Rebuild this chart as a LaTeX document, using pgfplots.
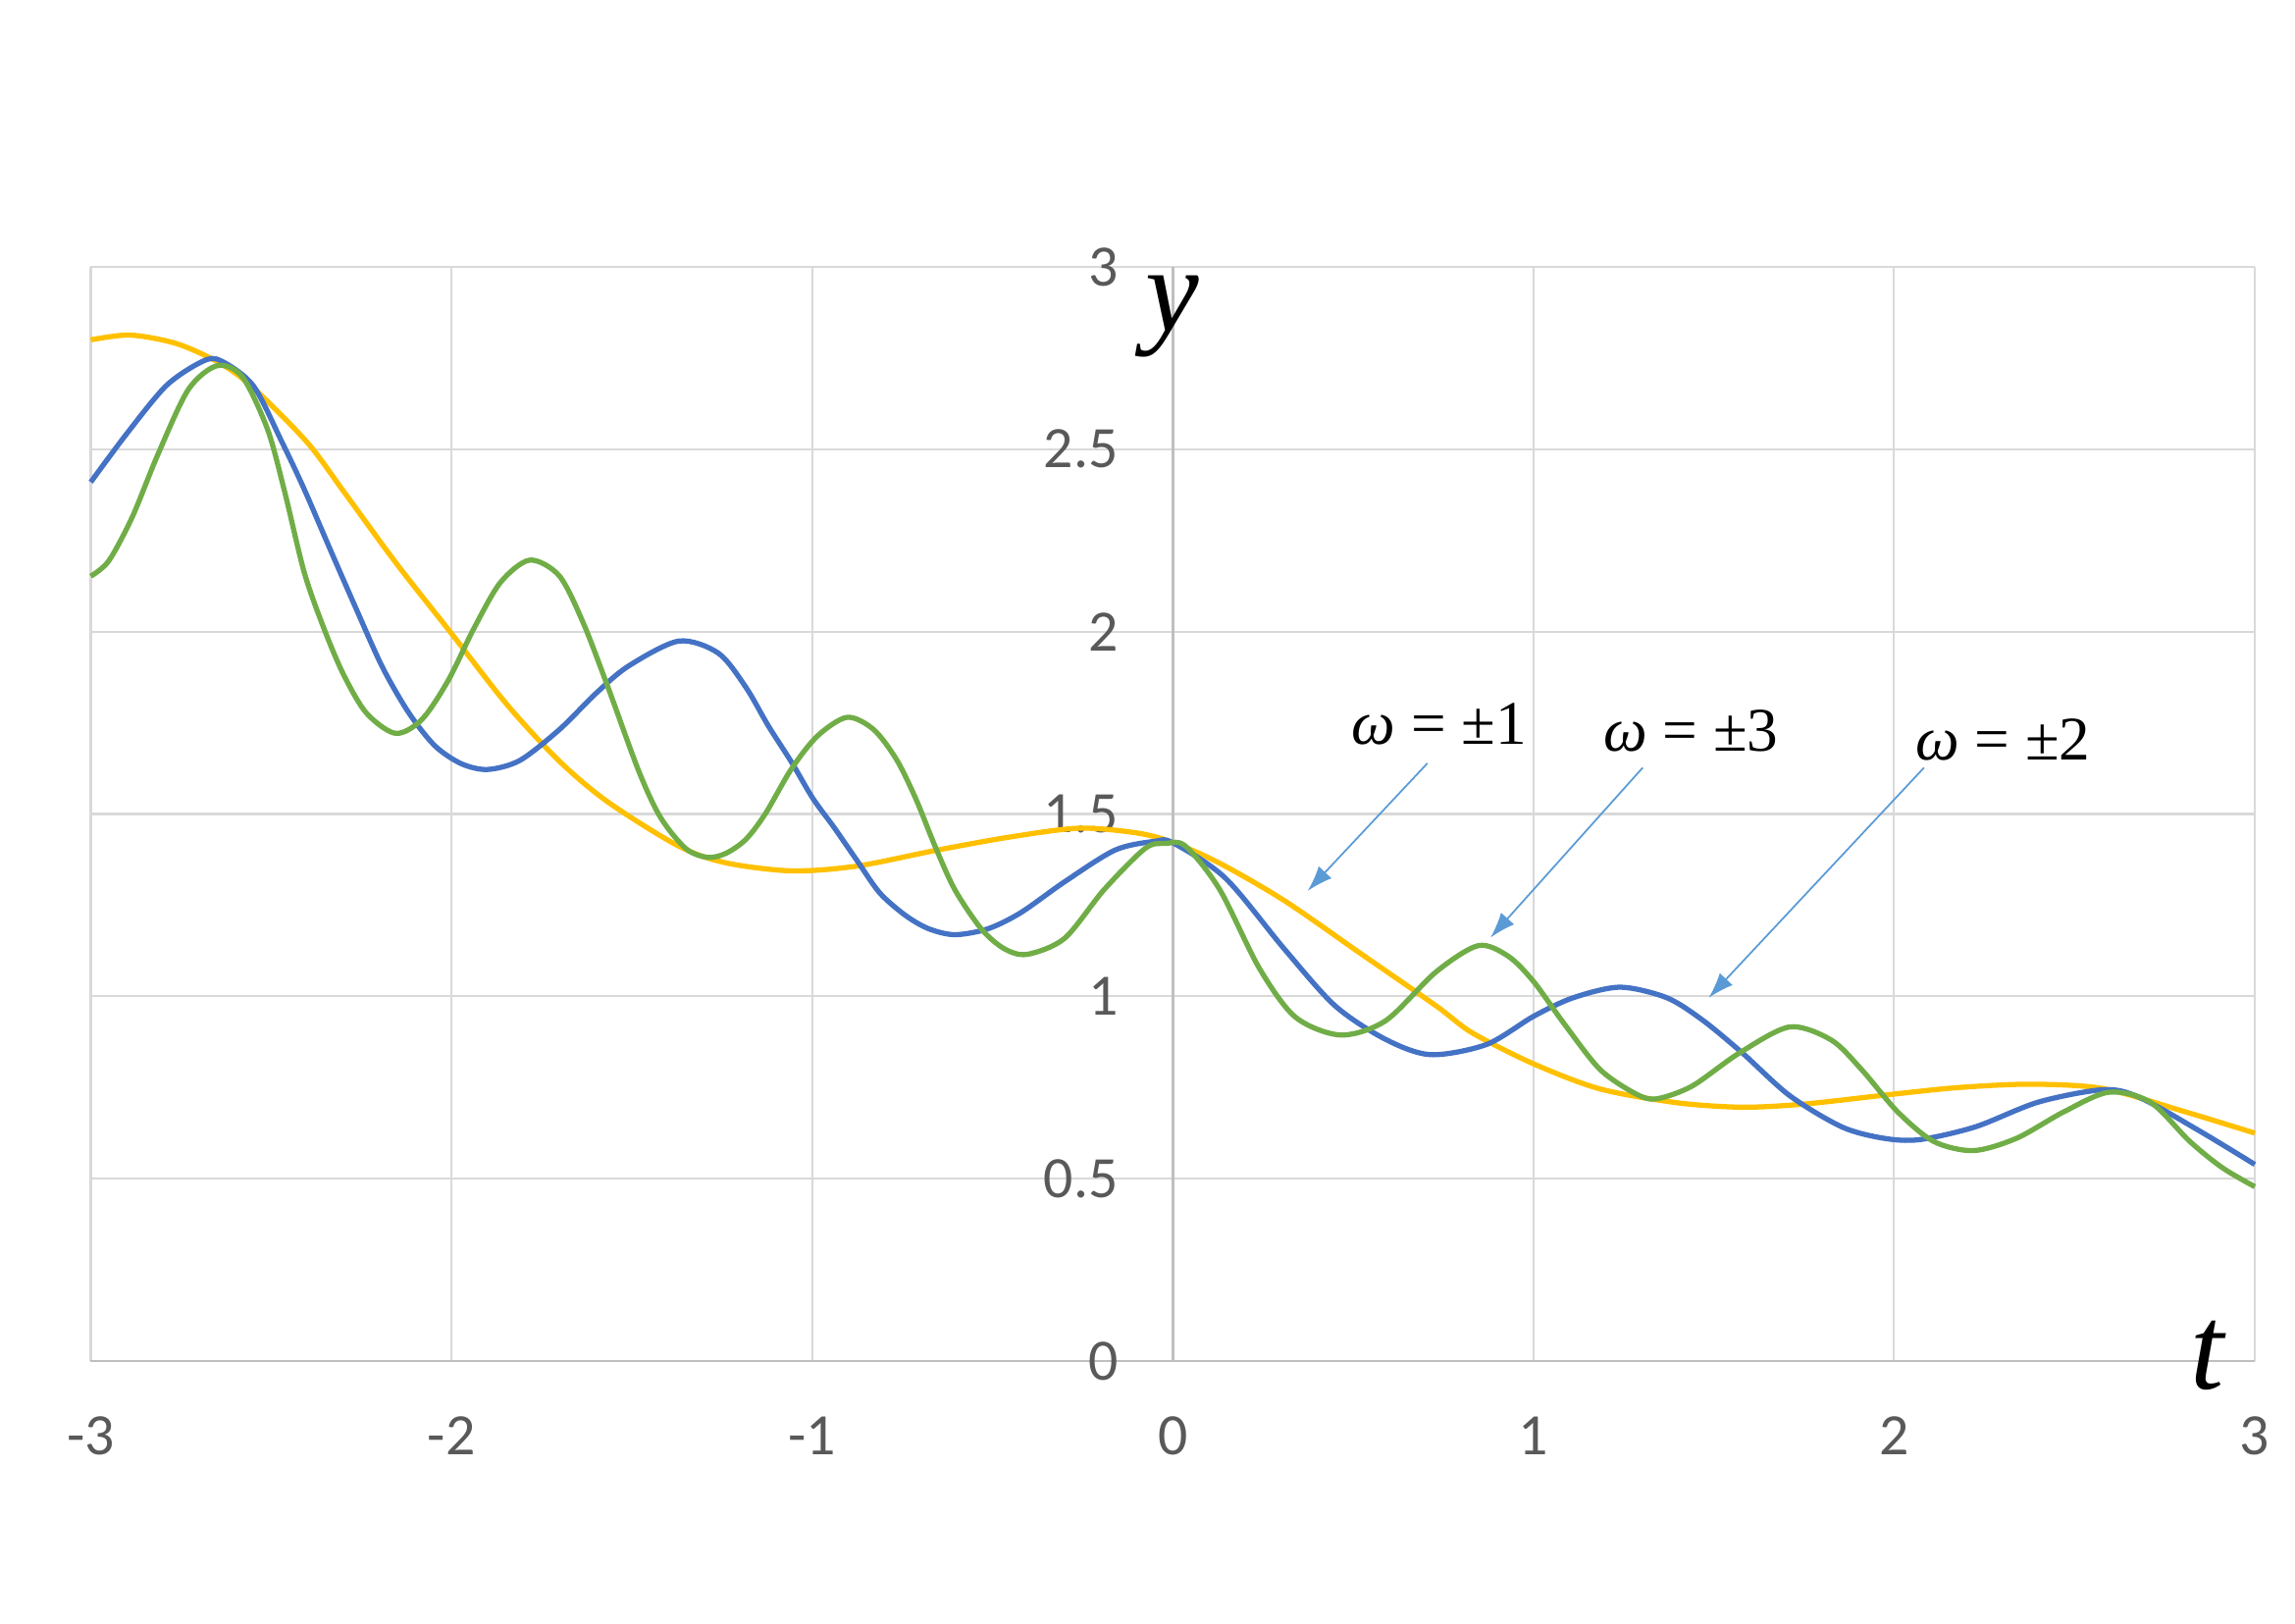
\documentclass[border=0pt]{standalone}
\usepackage{fontspec}
\setmainfont{Carlito}
\newfontfamily\tnr{Liberation Serif}
\usepackage{pgfplots}
\pgfplotsset{compat=1.18}
\usetikzlibrary{arrows.meta}

\definecolor{wone}{HTML}{FFC000}
\definecolor{wtwo}{HTML}{4472C4}
\definecolor{wthree}{HTML}{70AD47}
\definecolor{gridgray}{HTML}{D9D9D9}
\definecolor{axisgray}{HTML}{BFBFBF}
\definecolor{tickgray}{HTML}{595959}
\definecolor{arrowblue}{HTML}{5B9BD5}

\begin{document}
\begin{tikzpicture}
\begin{axis}[
    width=220.55mm, height=111.5mm, scale only axis,
    xmin=-3, xmax=3, ymin=0, ymax=3,
    axis x line=bottom, axis y line=center,
    axis line style={draw=axisgray, line width=0.8pt, -},
    xtick={-3,-2,-1,0,1,2,3},
    xticklabels={-3,-2,-1,0,1,2,3},
    ytick={0,0.5,1,1.5,2,2.5,3},
    yticklabels={0,0.5,1,1.5,2,2.5,3},
    grid=major, grid style={draw=gridgray, line width=0.6pt},
    major tick length=0pt,
    tick label style={font=\fontsize{17}{20}\selectfont, text=tickgray, inner sep=0pt},
    xticklabel style={anchor=north, yshift=-5.6mm},
    yticklabel style={anchor=east, xshift=-5.5mm},
    clip=false,
]
% omega = +-1
\addplot[wone, line width=1.5pt, smooth] coordinates {
    (-3,2.80) (-2.89,2.813) (-2.76,2.789) (-2.64,2.735) (-2.55,2.669)
    (-2.40,2.519) (-2.30,2.386) (-2.155,2.19) (-2.0,1.995) (-1.846,1.80)
    (-1.701,1.645) (-1.565,1.532) (-1.37,1.412) (-1.239,1.366) (-1.057,1.344)
    (-0.876,1.357) (-0.658,1.400) (-0.45,1.437) (-0.26,1.461) (-0.10,1.448)
    (0,1.422) (0.13,1.365) (0.31,1.262) (0.52,1.118) (0.73,0.974)
    (0.83,0.90) (1.0,0.815) (1.185,0.746) (1.40,0.708) (1.58,0.696)
    (1.755,0.705) (2.0,0.732) (2.18,0.75) (2.38,0.759) (2.58,0.747)
    (2.795,0.687) (3.0,0.625)
};
% omega = +-2
\addplot[wtwo, line width=1.5pt, smooth] coordinates {
    (-3,2.41) (-2.90,2.543) (-2.79,2.675) (-2.69,2.741) (-2.64,2.743)
    (-2.55,2.675) (-2.47,2.52) (-2.408,2.39) (-2.336,2.225) (-2.263,2.06)
    (-2.191,1.902) (-2.118,1.777) (-2.046,1.687) (-1.973,1.638) (-1.90,1.622)
    (-1.81,1.647) (-1.70,1.732) (-1.60,1.83) (-1.51,1.905) (-1.37,1.974)
    (-1.26,1.941) (-1.184,1.848) (-1.121,1.741) (-1.057,1.642) (-0.998,1.543)
    (-0.939,1.463) (-0.876,1.373) (-0.812,1.283) (-0.74,1.221) (-0.676,1.185)
    (-0.604,1.169) (-0.513,1.185) (-0.422,1.229) (-0.30,1.314) (-0.16,1.401)
    (-0.05,1.425) (0,1.421) (0.146,1.324) (0.31,1.129) (0.45,0.974)
    (0.59,0.882) (0.715,0.84) (0.87,0.868) (1.0,0.945) (1.11,0.996)
    (1.24,1.025) (1.37,0.996) (1.47,0.934) (1.58,0.844) (1.71,0.728)
    (1.855,0.642) (1.97,0.611) (2.07,0.607) (2.225,0.642) (2.40,0.71)
    (2.58,0.744) (2.68,0.723) (2.85,0.629) (3.0,0.539)
};
% omega = +-3
\addplot[wthree, line width=1.5pt, smooth] coordinates {
    (-3,2.152) (-2.95,2.194) (-2.885,2.314) (-2.815,2.483) (-2.73,2.663)
    (-2.65,2.729) (-2.58,2.699) (-2.51,2.555) (-2.463,2.386) (-2.408,2.162)
    (-2.354,2.010) (-2.30,1.884) (-2.236,1.777) (-2.155,1.721) (-2.082,1.759)
    (-2.009,1.866) (-1.937,2.010) (-1.864,2.135) (-1.783,2.196) (-1.701,2.153)
    (-1.635,2.025) (-1.565,1.845) (-1.48,1.616) (-1.42,1.49) (-1.35,1.405)
    (-1.29,1.381) (-1.239,1.392) (-1.184,1.43) (-1.13,1.50) (-1.057,1.624)
    (-0.985,1.714) (-0.903,1.765) (-0.830,1.732) (-0.767,1.651) (-0.713,1.543)
    (-0.658,1.409) (-0.604,1.292) (-0.531,1.185) (-0.468,1.131) (-0.404,1.115)
    (-0.30,1.159) (-0.19,1.293) (-0.076,1.406) (-0.02,1.419) (0.035,1.412)
    (0.13,1.293) (0.24,1.077) (0.34,0.943) (0.465,0.894) (0.59,0.933)
    (0.73,1.067) (0.847,1.139) (0.93,1.11) (1.0,1.041) (1.085,0.925)
    (1.185,0.799) (1.285,0.732) (1.342,0.719) (1.44,0.754) (1.57,0.844)
    (1.71,0.916) (1.826,0.88) (1.91,0.799) (2.01,0.683) (2.11,0.602)
    (2.22,0.577) (2.34,0.611) (2.47,0.683) (2.595,0.737) (2.71,0.71)
    (2.82,0.602) (2.91,0.53) (3.0,0.478)
};

% y tick label at the origin (dropped by the centred axis line)
\node[anchor=east, inner sep=0pt, xshift=-5.5mm, text=tickgray,
      font=\fontsize{17}{20}\selectfont] at (axis cs:0,0) {0};

% axis letters
\node[inner sep=0pt, font=\tnr\itshape\fontsize{35}{40}\selectfont] at (axis cs:0,2.865) {y};
\node[inner sep=0pt, font=\tnr\itshape\fontsize{35}{40}\selectfont] at (axis cs:2.869,0.016) {t};

% labels and arrows
\node[inner sep=0pt, font=\tnr\fontsize{18}{22}\selectfont] at (axis cs:0.739,1.747) {\textit{ω} = ±1};
\node[inner sep=0pt, font=\tnr\fontsize{18}{22}\selectfont] at (axis cs:1.437,1.727) {\textit{ω} = ±3};
\node[inner sep=0pt, font=\tnr\fontsize{18}{22}\selectfont] at (axis cs:2.302,1.703) {\textit{ω} = ±2};
\draw[arrowblue, line width=0.5pt, -{Latex[length=2.6mm,width=1.8mm]}] (axis cs:0.706,1.639) -- (axis cs:0.374,1.289);
\draw[arrowblue, line width=0.5pt, -{Latex[length=2.6mm,width=1.8mm]}] (axis cs:1.303,1.627) -- (axis cs:0.881,1.161);
\draw[arrowblue, line width=0.5pt, -{Latex[length=2.6mm,width=1.8mm]}] (axis cs:2.083,1.627) -- (axis cs:1.486,0.996);

\coordinate (O) at (rel axis cs:0,0);
\end{axis}
\pgfresetboundingbox
\path[use as bounding box] ([shift={(-9.25mm,-26.7mm)}]O) rectangle ([shift={(224.65mm,138.7mm)}]O);
\end{tikzpicture}
\end{document}
